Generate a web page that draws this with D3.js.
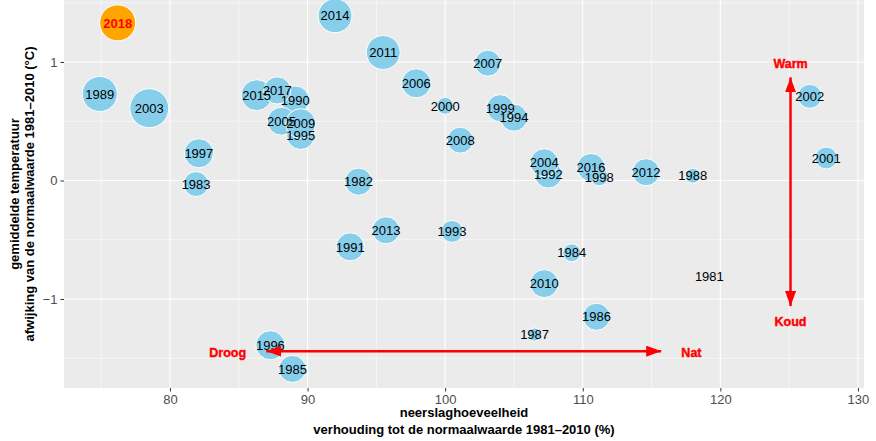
<!DOCTYPE html>
<html><head><meta charset="utf-8">
<script src="https://cdn.jsdelivr.net/npm/d3@7"></script>
<style>body{margin:0;background:#fff}svg text{font-family:"Liberation Sans",Arial,sans-serif}</style>
</head><body>
<svg id="c" width="876" height="441"></svg>
<script>
const years = [1981,1982,1983,1984,1985,1986,1987,1988,1989,1990,1991,1992,1993,1994,1995,1996,1997,1998,1999,2000,2001,2002,2003,2004,2005,2006,2007,2008,2009,2010,2011,2012,2013,2014,2015,2016,2017,2018];
const neerslag = [119.2,93.7,81.9,109.2,88.9,111.0,106.5,118.0,74.9,89.1,93.1,107.5,100.5,105.0,89.5,87.3,82.1,111.2,104.0,100.0,127.7,126.5,78.5,107.2,88.1,97.9,103.1,101.1,89.5,107.2,95.5,114.6,95.7,92.0,86.3,110.6,87.8,76.2];
const temperatuur = [-0.81,-0.01,-0.03,-0.61,-1.59,-1.15,-1.30,0.04,0.73,0.68,-0.56,0.05,-0.43,0.53,0.38,-1.39,0.23,0.03,0.61,0.63,0.19,0.71,0.61,0.15,0.50,0.82,0.99,0.34,0.48,-0.87,1.08,0.07,-0.42,1.39,0.72,0.11,0.76,1.33];
const grootte = [1,46,39,20,46,46,11,14,77,49,49,46,30,46,49,53,53,20,46,18,30,36,95,49,49,53,42,42,56,49,72,46,46,72,60,49,46,81];
const highlightYear = 2018;
const xTicks = [80,90,100,110,120,130];
const yTicks = [-1,0,1];
const xMinor = [75,85,95,105,115,125];
const yMinor = [-1.5,-0.5,0.5,1.5];
const arrowH = {x1:87.0, x2:115.7, y:-1.44};
const arrowV = {x:125.1, y1:0.87, y2:-1.06};
const arrowLabels = [
  {t:"Droog", x:84.2, y:-1.45},
  {t:"Nat", x:117.9, y:-1.45},
  {t:"Warm", x:125.1, y:0.99},
  {t:"Koud", x:125.1, y:-1.19}
];
const xTitle = ["neerslaghoeveelheid","verhouding tot de normaalwaarde 1981\u20132010 (%)"];
const yTitle = ["gemiddelde temperatuur","afwijking van de normaalwaarde 1981\u20132010 (\u00b0C)"];

const P = {l:64, r:864, t:0, b:388};
const svg = d3.select("#c");
const x = d3.scaleLinear().domain([72.3,130.44]).range([P.l,P.r]);
const y = d3.scaleLinear().domain([-1.751,1.523]).range([P.b,P.t]);
const r = d3.scaleSqrt().domain([0,100]).range([0,20]);

svg.append("defs").append("clipPath").attr("id","clip").append("rect")
  .attr("x",P.l).attr("y",P.t).attr("width",P.r-P.l).attr("height",P.b-P.t);
svg.select("defs").append("marker").attr("id","ah").attr("viewBox","0 0 15 11")
  .attr("refX",15).attr("refY",5.5).attr("markerWidth",15).attr("markerHeight",11)
  .attr("markerUnits","userSpaceOnUse").attr("orient","auto-start-reverse")
  .append("path").attr("d","M0,0L15,5.5L0,11Z").attr("fill","#ff0000");

svg.append("rect").attr("x",P.l).attr("y",P.t).attr("width",P.r-P.l).attr("height",P.b-P.t).attr("fill","#EBEBEB");
const g = svg.append("g").attr("clip-path","url(#clip)");
g.selectAll(".vmin").data(xMinor).join("line").attr("x1",d=>x(d)).attr("x2",d=>x(d)).attr("y1",P.t).attr("y2",P.b).attr("stroke","#fff").attr("stroke-width",0.55);
g.selectAll(".hmin").data(yMinor).join("line").attr("y1",d=>y(d)).attr("y2",d=>y(d)).attr("x1",P.l).attr("x2",P.r).attr("stroke","#fff").attr("stroke-width",0.55);
g.selectAll(".vmaj").data(xTicks).join("line").attr("x1",d=>x(d)).attr("x2",d=>x(d)).attr("y1",P.t).attr("y2",P.b).attr("stroke","#fff").attr("stroke-width",1.1);
g.selectAll(".hmaj").data(yTicks).join("line").attr("y1",d=>y(d)).attr("y2",d=>y(d)).attr("x1",P.l).attr("x2",P.r).attr("stroke","#fff").attr("stroke-width",1.1);

const data = years.map((yr,i)=>({yr, px:neerslag[i], t:temperatuur[i], s:grootte[i]}));
g.selectAll("circle.pt").data(data).join("circle")
  .attr("cx",d=>x(d.px)).attr("cy",d=>y(d.t)).attr("r",d=>r(d.s))
  .attr("fill",d=>d.yr===highlightYear?"#FFA500":"#87CEEB").attr("stroke","#fff").attr("stroke-width",1);
g.selectAll("text.lb").data(data).join("text")
  .attr("x",d=>x(d.px)).attr("y",d=>y(d.t)).attr("dy","0.36em").attr("text-anchor","middle")
  .attr("font-size",13).attr("fill",d=>d.yr===highlightYear?"#ff0000":"#000")
  .attr("font-weight",d=>d.yr===highlightYear?"bold":"normal").text(d=>d.yr);

g.append("line").attr("x1",x(arrowH.x1)).attr("x2",x(arrowH.x2)).attr("y1",y(arrowH.y)).attr("y2",y(arrowH.y))
  .attr("stroke","#ff0000").attr("stroke-width",2.5).attr("marker-start","url(#ah)").attr("marker-end","url(#ah)");
g.append("line").attr("x1",x(arrowV.x)).attr("x2",x(arrowV.x)).attr("y1",y(arrowV.y1)).attr("y2",y(arrowV.y2))
  .attr("stroke","#ff0000").attr("stroke-width",2.5).attr("marker-start","url(#ah)").attr("marker-end","url(#ah)");
g.selectAll("text.al").data(arrowLabels).join("text")
  .attr("x",d=>x(d.x)).attr("y",d=>y(d.y)).attr("dy","0.36em").attr("text-anchor","middle")
  .attr("font-size",12.5).attr("font-weight","bold").attr("fill","#ff0000")
  .attr("stroke","#ff0000").attr("stroke-width",0.4).text(d=>d.t);

// axes
const xa = svg.append("g").attr("transform",`translate(0,${P.b})`)
  .call(d3.axisBottom(x).tickValues(xTicks).tickSize(3.5).tickPadding(3).tickFormat(d3.format("d")));
const ya = svg.append("g").attr("transform",`translate(${P.l},0)`)
  .call(d3.axisLeft(y).tickValues(yTicks).tickSize(3.5).tickPadding(3).tickFormat(d=>d<0?"\u2212"+Math.abs(d):d));
[xa,ya].forEach(a=>{a.select(".domain").remove();a.selectAll("line").attr("stroke","#333");
  a.selectAll("text").attr("fill","#4D4D4D").attr("font-size",13).attr("font-family","Liberation Sans, Arial, sans-serif");});

svg.append("g").selectAll("text").data(xTitle).join("text")
  .attr("x",(P.l+P.r)/2).attr("y",(d,i)=>417+i*17).attr("text-anchor","middle")
  .attr("font-size",13).attr("font-weight","bold").attr("fill","#000").text(d=>d);
svg.append("g").selectAll("text").data(yTitle).join("text")
  .attr("transform",(d,i)=>`translate(${19+i*15},${(P.t+P.b)/2}) rotate(-90)`).attr("text-anchor","middle")
  .attr("font-size",13).attr("font-weight","bold").attr("fill","#000").text(d=>d);
</script>
</body></html>
